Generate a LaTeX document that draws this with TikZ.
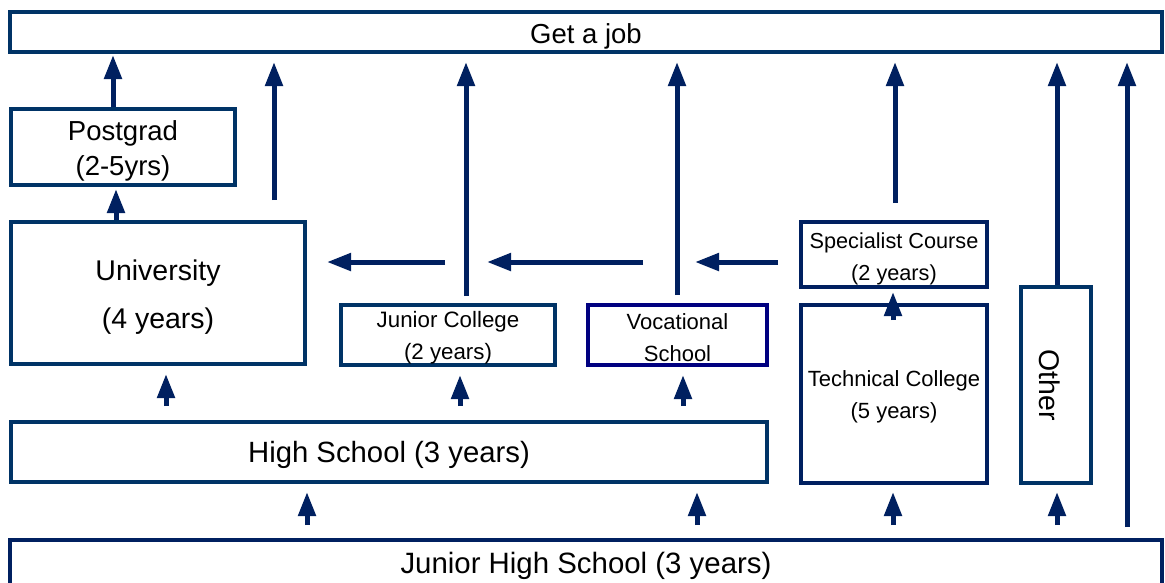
\documentclass[tikz,border=0pt]{standalone}
\usepackage{fontspec}
\setmainfont{Liberation Sans}
\usetikzlibrary{arrows.meta}
\definecolor{boxcol}{RGB}{0,51,102}
\definecolor{arrcol}{RGB}{0,32,96}
\definecolor{voccol}{RGB}{0,0,128}
\begin{document}
\begin{tikzpicture}[x=1pt,y=-1pt,
  box/.style={draw=boxcol,line width=4pt,inner sep=0pt},
  txt/.style={inner sep=0pt,align=center,text=black},
  arr/.style={draw=arrcol,line width=5pt,-{Triangle[width=17pt,length=24pt]}}]
\useasboundingbox (0,0) rectangle (1165,582);
\fill[white] (0,0) rectangle (1165,582);
% boxes
\node[box,minimum width=1152,minimum height=40] (job) at (586,32) {};
\node[box,minimum width=224,minimum height=76] (pg) at (123,147) {};
\node[box,minimum width=294,minimum height=142] (uni) at (158,293) {};
\node[box,minimum width=214,minimum height=60] (jc) at (448,335) {};
\node[box,draw=voccol,minimum width=179,minimum height=60] (voc) at (677.5,335) {};
\node[box,draw=arrcol,minimum width=186,minimum height=65] (spec) at (894,254.5) {};
\node[box,draw=arrcol,minimum width=186,minimum height=178] (tech) at (894,394) {};
\node[box,minimum width=70,minimum height=196] (oth) at (1056,385) {};
\node[box,minimum width=756,minimum height=60] (hs) at (389,452) {};
\node[box,draw=arrcol,minimum width=1152,minimum height=46] (jhs) at (586,563) {};
% texts
\node[txt,font=\fontsize{27.5}{30}\selectfont] (jobT) at ([yshift=-4pt]job.center) {Get a job};
\node[txt,font=\fontsize{27.5}{35}\selectfont] (pgT) at ([yshift=-4pt]pg.center) {Postgrad\\(2-5yrs)};
\node[txt,font=\fontsize{28.5}{48}\selectfont] (uniT) at ([yshift=-4pt]uni.center) {University\\(4 years)};
\node[txt,font=\fontsize{22.3}{32}\selectfont] (jcT) at ([yshift=-3pt]jc.center) {Junior College\\(2 years)};
\node[txt,font=\fontsize{22}{32}\selectfont] (vocT) at ([yshift=-3pt]voc.center) {Vocational\\School};
\node[txt,font=\fontsize{21.7}{32}\selectfont] (specT) at ([yshift=-4.5pt]spec.center) {Specialist Course\\(2 years)};
\node[txt,font=\fontsize{22}{32}\selectfont] (techT) at ([yshift=-3pt]tech.center) {Technical College\\(5 years)};
\node[txt,font=\fontsize{28.5}{32}\selectfont,rotate=-90] (othT) at ([xshift=-6pt]oth.center) {Other};
\node[txt,font=\fontsize{29.3}{32}\selectfont] (hsT) at ([yshift=-3pt]hs.center) {High School (3 years)};
\node[txt,font=\fontsize{29.4}{32}\selectfont] (jhsT) at ([yshift=-3pt]jhs.center) {Junior High School (3 years)};
% free ends
\coordinate (x113) at (113,0);
\coordinate (x116) at (116,0);
\coordinate (x166) at (166,0);
\coordinate (x307) at (307,0);
\coordinate (x460) at (460,0);
\coordinate (x466) at (466,0);
\coordinate (x677) at (677,0);
\coordinate (x683) at (683,0);
\coordinate (x697) at (697,0);
\coordinate (x893) at (893,0);
\coordinate (x895) at (895,0);
\coordinate (x1057) at (1057,0);
\coordinate (f1) at (274,200);
\coordinate (f2) at (1127,527);
\coordinate (t1) at (893,320);
\coordinate (h1s) at (445,262);
\coordinate (h1e) at (327,262);
\coordinate (h2s) at (643,262);
\coordinate (h2e) at (487,262);
\coordinate (h3s) at (778,262);
\coordinate (h3e) at (695,262);
% arrows to job
\draw[arr,shorten >=1pt] (pg.north -| x113) -- (job.south -| x113);
\draw[arr,shorten >=2pt] (uni.north -| x116) -- (pg.south -| x116);
\draw[arr,shorten >=8pt] (f1) -- (f1 |- job.south);
\draw[arr,shorten <=7pt,shorten >=8pt] (jc.north -| x466) -- (job.south -| x466);
\draw[arr,shorten <=8pt,shorten >=8pt] (voc.north -| x677) -- (job.south -| x677);
\draw[arr,shorten <=17pt,shorten >=8pt] (spec.north -| x895) -- (job.south -| x895);
\draw[arr,shorten >=8pt] (oth.north -| x1057) -- (job.south -| x1057);
\draw[arr,shorten >=8pt] (f2) -- (f2 |- job.south);
% horizontal
\draw[arr] (h1s) -- (h1e);
\draw[arr] (h2s) -- (h2e);
\draw[arr] (h3s) -- (h3e);
% high school up
\draw[arr,shorten <=14pt,shorten >=8pt] (hs.north -| x166) -- (uni.south -| x166);
\draw[arr,shorten <=14pt,shorten >=8pt] (hs.north -| x460) -- (jc.south -| x460);
\draw[arr,shorten <=14pt,shorten >=8pt] (hs.north -| x683) -- (voc.south -| x683);
\draw[arr,shorten >=3pt] (t1) -- (spec.south -| t1);
% junior high up
\draw[arr,shorten <=13pt,shorten >=8pt] (jhs.north -| x307) -- (hs.south -| x307);
\draw[arr,shorten <=13pt,shorten >=8pt] (jhs.north -| x697) -- (hs.south -| x697);
\draw[arr,shorten <=13pt,shorten >=7pt] (jhs.north -| x893) -- (tech.south -| x893);
\draw[arr,shorten <=13pt,shorten >=7pt] (jhs.north -| x1057) -- (oth.south -| x1057);
\end{tikzpicture}
\end{document}
